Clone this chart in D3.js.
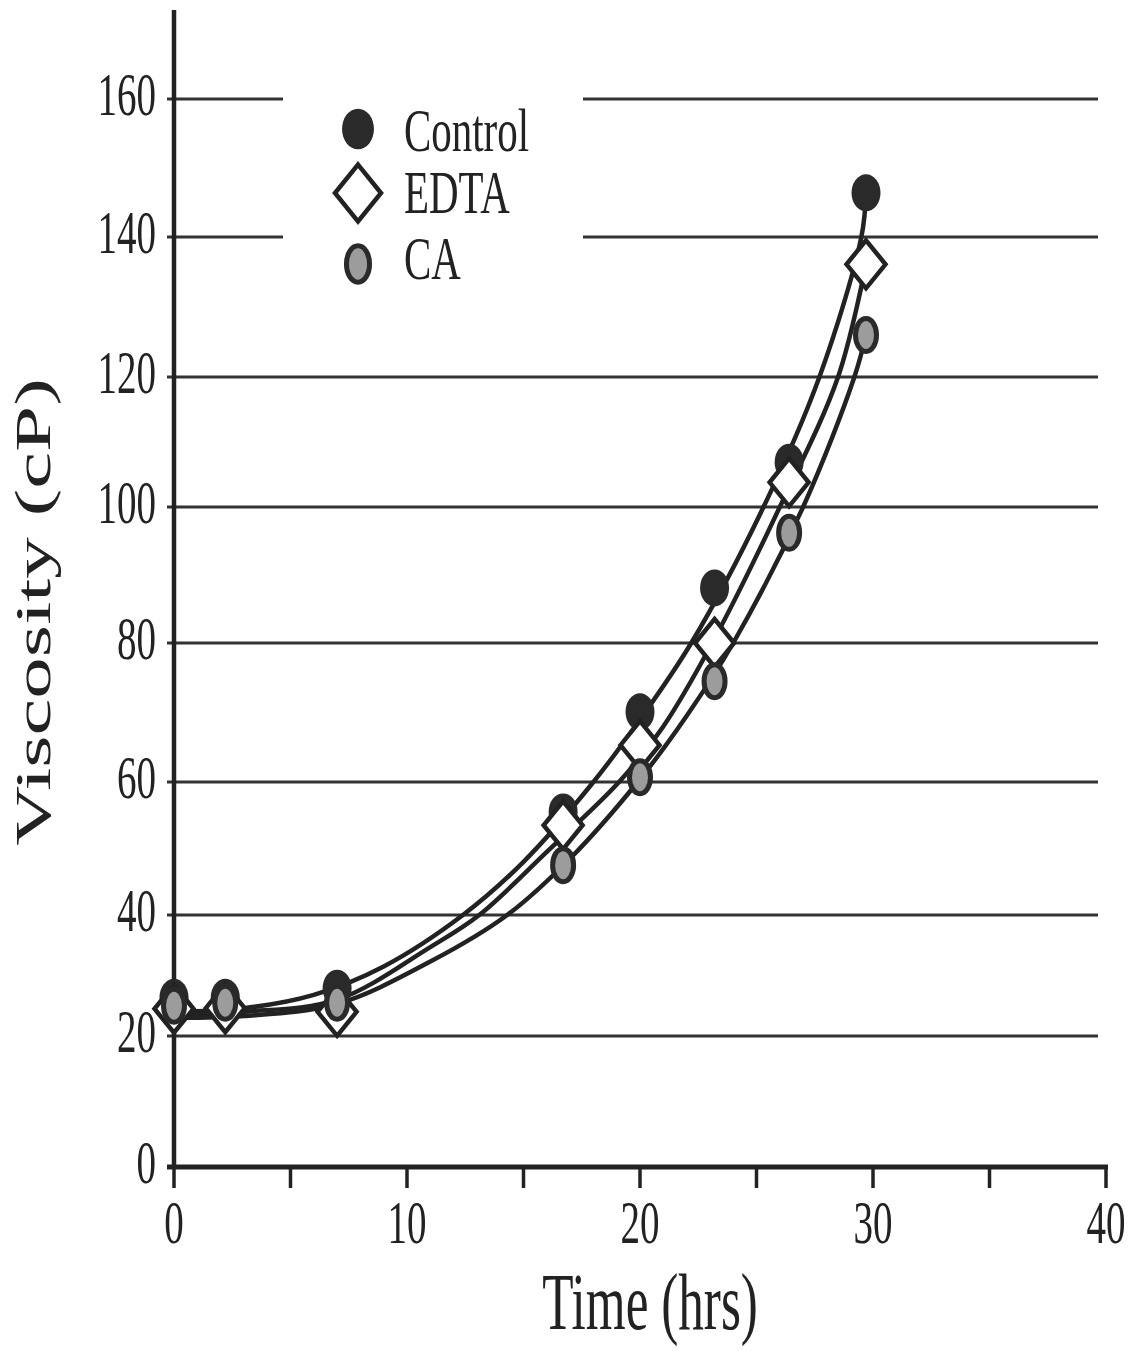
<!DOCTYPE html>
<html>
<head>
<meta charset="utf-8">
<script src="https://cdn.jsdelivr.net/npm/d3@7"></script>
<style>
  body { margin: 0; background: #fff; }
  text { font-family: 'Liberation Serif', 'Times New Roman', serif; fill: #222; }
</style>
</head>
<body>
<svg id="chart" width="1133" height="1351"></svg>
<script>
// data
const seriesNames = ['Control', 'EDTA', 'CA']
const times = [0, 2.2, 7.0, 16.7, 20.0, 23.2, 26.4, 29.7]
const control = [26.4, 26.4, 27.9, 55.5, 70.1, 88.1, 106.9, 146.4]
const edta = [24.5, 24.6, 24.0, 53.5, 65.3, 80.0, 103.8, 136.1]
const ca = [25.0, 25.5, 25.5, 47.5, 60.7, 74.5, 96.2, 126.0]

// fitted curves as [time, viscosity]
const controlFit = [[0, 24], [3, 24.6], [6, 26.8], [9, 31.5], [12.4, 40], [15, 48], [18, 60], [20, 69], [22.2, 80], [25.3, 100], [27.7, 120], [29.5, 140], [29.7, 146.4]]
const edtaFit = [[0, 23.5], [3, 24], [7, 26], [11, 34.7], [13.1, 40], [16, 49.5], [19.1, 60], [21, 68], [23.1, 80], [26, 100], [28.5, 120], [29.7, 136.1]]
const caFit = [[0, 23], [3, 23.3], [7, 25.3], [11, 32.3], [14.3, 40], [17, 48.5], [19.9, 60], [22, 69.5], [24, 80], [27, 100], [29.2, 120], [29.7, 126]]

const xTicks = [0, 5, 10, 15, 20, 25, 30, 35, 40]
const xLabels = [0, 10, 20, 30, 40]
const yTicks = [0, 20, 40, 60, 80, 100, 120, 140, 160]

// layout
const x0 = 174
const x1 = 1106
const gridRight = 1098
// the scanned figure is slightly uneven vertically, so the scale follows its gridlines
const gridPx = [1167, 1036, 915, 782, 643, 507, 377, 237, 99]
const squeeze = 0.64
const ink = '#222'
const serif = "'Liberation Serif', 'Times New Roman', serif"

const svg = d3.select('#chart')

const x = d3.scaleLinear().domain([0, 40]).range([x0, x1])
const y = d3.scaleLinear().domain(yTicks).range(gridPx)

// gridlines (the top two leave room for the legend)
yTicks.slice(1).forEach(v => {
  const segs = v >= 140 ? [[167, 283], [583, gridRight]] : [[167, gridRight]]
  segs.forEach(s => {
    svg.append('line')
      .attr('x1', s[0]).attr('x2', s[1])
      .attr('y1', y(v)).attr('y2', y(v))
      .attr('stroke', '#333')
      .attr('stroke-width', 3)
  })
})

// axes
svg.append('line')
  .attr('x1', x0).attr('x2', x0)
  .attr('y1', 10).attr('y2', y(0) + 2)
  .attr('stroke', ink).attr('stroke-width', 4.5)

svg.append('line')
  .attr('x1', 167).attr('x2', x1 + 2)
  .attr('y1', y(0)).attr('y2', y(0))
  .attr('stroke', ink).attr('stroke-width', 5)

svg.selectAll('.xtick')
  .data(xTicks)
  .enter()
  .append('line')
  .attr('class', 'xtick')
  .attr('x1', d => x(d)).attr('x2', d => x(d))
  .attr('y1', y(0)).attr('y2', y(0) + 21)
  .attr('stroke', ink).attr('stroke-width', 3.5)

svg.selectAll('.xlabel')
  .data(xLabels)
  .enter()
  .append('text')
  .attr('class', 'xlabel')
  .attr('transform', d => `translate(${x(d)},${y(0) + 76}) scale(${squeeze},1)`)
  .attr('text-anchor', 'middle')
  .attr('font-family', serif)
  .attr('font-size', 61)
  .text(d => d)

svg.selectAll('.ylabel')
  .data(yTicks)
  .enter()
  .append('text')
  .attr('class', 'ylabel')
  .attr('transform', d => `translate(156,${y(d) + 16}) scale(${squeeze},1)`)
  .attr('text-anchor', 'end')
  .attr('font-family', serif)
  .attr('font-size', 61)
  .text(d => d)

svg.append('text')
  .attr('transform', `translate(650,1329) scale(${squeeze},1)`)
  .attr('text-anchor', 'middle')
  .attr('font-family', serif)
  .attr('font-size', 80)
  .text('Time (hrs)')

svg.append('text')
  .attr('transform', `translate(50,612) scale(0.6,1) rotate(-90)`)
  .attr('text-anchor', 'middle')
  .attr('font-family', serif)
  .attr('font-size', 83)
  .text('Viscosity (cP)')

// fitted curves
const line = d3.line()
  .x(d => x(d[0]))
  .y(d => y(d[1]))
  .curve(d3.curveCatmullRom.alpha(0.5))

;[controlFit, edtaFit, caFit].forEach(fit => {
  svg.append('path')
    .attr('d', line(fit))
    .attr('fill', 'none')
    .attr('stroke', ink)
    .attr('stroke-width', 4.5)
})

// markers
function drawMarker (g, name, cx, cy, k) {
  if (name === 'Control') {
    g.append('ellipse')
      .attr('cx', cx).attr('cy', cy)
      .attr('rx', 14.5 * k).attr('ry', 18.5 * k)
      .attr('fill', '#2a2a2a')
  } else if (name === 'EDTA') {
    const w = 19.5 * k
    const h = 24 * k
    g.append('path')
      .attr('d', `M${cx},${cy - h}L${cx + w},${cy}L${cx},${cy + h}L${cx - w},${cy}Z`)
      .attr('fill', '#fff')
      .attr('stroke', ink)
      .attr('stroke-width', 4.5)
  } else {
    g.append('ellipse')
      .attr('cx', cx).attr('cy', cy)
      .attr('rx', 10.5 * k).attr('ry', 16.5 * k)
      .attr('fill', '#9c9c9c')
      .attr('stroke', '#2a2a2a')
      .attr('stroke-width', 5)
  }
}

const values = { Control: control, EDTA: edta, CA: ca }
const pts = svg.append('g')
seriesNames.forEach(name => {
  values[name].forEach((v, i) => drawMarker(pts, name, x(times[i]), y(v), 1))
})

// legend
const legendY = [129, 193, 264]
const legendBase = [151, 213, 279]
const leg = svg.append('g')
seriesNames.forEach((name, i) => {
  drawMarker(leg, name, 358, legendY[i], name === 'EDTA' ? 1.18 : 1.1)
  leg.append('text')
    .attr('transform', `translate(404,${legendBase[i]}) scale(0.66,1)`)
    .attr('font-family', serif)
    .attr('font-size', 62)
    .text(name)
})
</script>
</body>
</html>
